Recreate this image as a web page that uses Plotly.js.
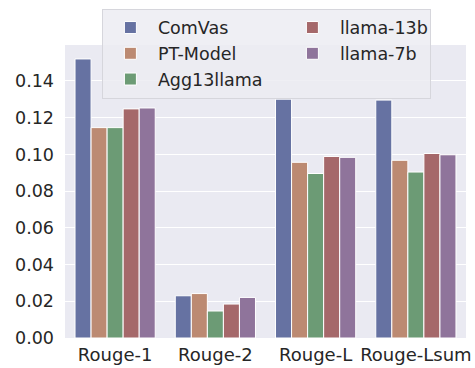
<!DOCTYPE html>
<html>
<head>
<meta charset="utf-8">
<script src="https://cdn.plot.ly/plotly-3.0.1.min.js"></script>
<style>html,body{margin:0;padding:0;background:#fff;}#chart{width:475px;height:368px;}</style>
</head>
<body>
<div id="chart"></div>
<script>
const categories = ["Rouge-1", "Rouge-2", "Rouge-L", "Rouge-Lsum"];
const seriesNames = ["ComVas", "PT-Model", "Agg13llama", "llama-13b", "llama-7b"];
const comVas = [0.152, 0.0230, 0.1301, 0.1296];
const ptModel = [0.1146, 0.0242, 0.0957, 0.0968];
const agg13llama = [0.1146, 0.0147, 0.0896, 0.0904];
const llama13b = [0.1248, 0.0185, 0.0989, 0.1005];
const llama7b = [0.1253, 0.0221, 0.0984, 0.0998];
const yTicks = [0, 0.02, 0.04, 0.06, 0.08, 0.10, 0.12, 0.14];

const seriesValues = [comVas, ptModel, agg13llama, llama13b, llama7b];
const colors = ["#6672a2", "#bc8a72", "#6c9b75", "#a5686a", "#8f749b"];
const ranks = [1, 3, 5, 2, 4];
const legendWidths = [122, 122, 122, 85, 85];

const traces = seriesNames.map((n, i) => ({
  type: "bar",
  name: n,
  x: categories,
  y: seriesValues[i],
  marker: {color: colors[i], line: {color: "#ffffff", width: 1}},
  legendrank: ranks[i],
  legendwidth: legendWidths[i]
}));

const layout = {
  width: 475, height: 368,
  margin: {l: 65, r: 9, t: 40, b: 30},
  paper_bgcolor: "#ffffff",
  plot_bgcolor: "#eaeaf2",
  font: {family: "DejaVu Sans", color: "#262626", size: 17.5},
  barmode: "group",
  bargap: 0.2,
  bargroupgap: 0,
  xaxis: {
    type: "category", automargin: false,
    showgrid: false, zeroline: false, showline: false,
    ticks: "", tickfont: {size: 18}, range: [-0.5, 3.5],
    ticklabelstandoff: 4
  },
  yaxis: {
    automargin: false,
    range: [0, 0.1596],
    tickvals: yTicks,
    ticktext: yTicks.map(v => v.toFixed(2)),
    showgrid: true, gridcolor: "#ffffff", gridwidth: 1,
    zeroline: false, showline: false, ticks: "",
    tickfont: {size: 17.5},
    ticklabelstandoff: 10
  },
  showlegend: true,
  legend: {
    orientation: "h",
    x: 0.092, xanchor: "left",
    y: 1.124, yanchor: "top",
    bgcolor: "rgba(236,236,242,0.85)",
    bordercolor: "#d6d6dc", borderwidth: 1,
    itemwidth: 45,
    entrywidth: 122, entrywidthmode: "pixels",
    font: {size: 17.5, color: "#262626"},
    traceorder: "normal"
  }
};

Plotly.newPlot("chart", traces, layout, {displayModeBar: false, staticPlot: true});
</script>
</body>
</html>
